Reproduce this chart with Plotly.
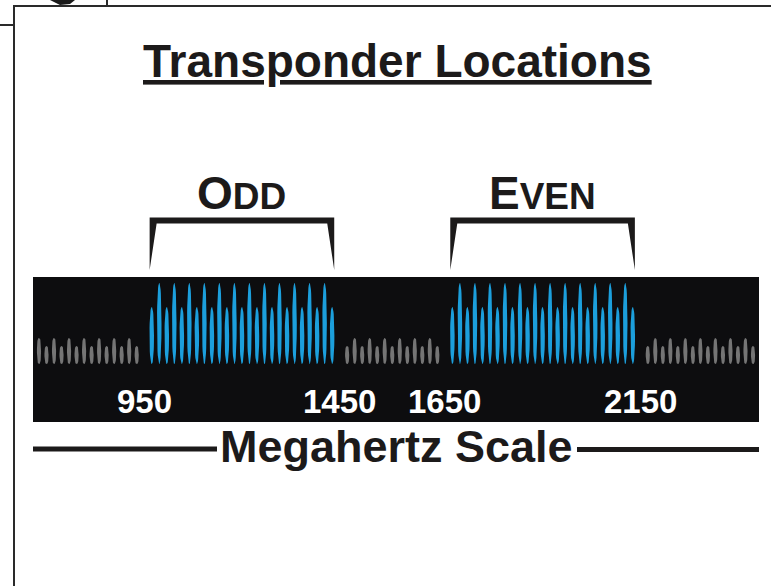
import numpy as np
import plotly.graph_objects as go

W, H = 772, 586

# ---------------- data ----------------
# channel slots along the illustrated L-band strip (uniform spacing)
group_names = ["gray_left", "odd", "gray_mid", "even", "gray_right"]
group_start_slots = [0, 15, 41, 55, 81]
gray_left_heights = [26, 18, 26, 18, 26, 18, 26, 18, 26, 18, 26, 18, 26, 18]
odd_heights = [57, 81, 57, 81, 57, 81, 57, 81, 57, 81, 57, 81, 57,
               81, 57, 81, 57, 81, 57, 81, 57, 81, 57, 81, 57]
gray_mid_heights = [18, 26, 18, 26, 18, 26, 18, 26, 18, 26, 18, 26, 18]
even_heights = [57, 81, 57, 81, 57, 81, 57, 81, 57, 81, 57, 81, 57,
                81, 57, 81, 57, 81, 57, 81, 57, 81, 57, 81, 57]
gray_right_heights = [18, 26, 18, 26, 18, 26, 18, 26, 18, 26, 18, 26, 18, 26, 18]

scale_labels = ["950", "1450", "1650", "2150"]
scale_label_slots = [14, 40, 54, 80]

band_labels = ["O", "DD", "E", "VEN"]

# ---------------- styling constants ----------------
BLUE = "#1c9fdc"
GRAY = "#757575"
INK = "#1c1a1a"
BAND = "#0d0d0f"
FONT = "Liberation Sans, Arial, sans-serif"

X0, DX = 39.0, 7.516          # pixel of slot 0, pixels per slot
BASE_ROW = 364                # baseline row of spikes


def px(x):
    return x / W


def py(r):
    return 1 - r / H


def spikes_trace(groups, color, width, expo):
    xs, ys = [], []
    t = np.linspace(0, 2 * np.pi, 40)
    c, s_ = np.cos(t), np.sin(t)
    ex = np.sign(c) * np.abs(c) ** (2 / expo)
    ey = np.sign(s_) * np.abs(s_) ** (2 / expo)
    for start, heights in groups:
        for i, h in enumerate(heights):
            s = start + i
            xs += list(s + width / 2 * ex) + [None]
            ys += list(h / 2 + h / 2 * ey) + [None]
    return go.Scatter(x=xs, y=ys, mode="lines", fill="toself",
                      fillcolor=color, line=dict(width=0, color=color),
                      hoverinfo="skip", showlegend=False)


fig = go.Figure()

gray_groups = [(group_start_slots[0], gray_left_heights),
               (group_start_slots[2], gray_mid_heights),
               (group_start_slots[4], gray_right_heights)]
blue_groups = [(group_start_slots[1], odd_heights),
               (group_start_slots[3], even_heights)]

fig.add_trace(spikes_trace(gray_groups, GRAY, 0.55, 2.6))
fig.add_trace(spikes_trace(blue_groups, BLUE, 0.6, 2.2))

shapes = []
# frame lines
shapes.append(dict(type="line", xref="paper", yref="paper", x0=px(14), x1=px(14),
                   y0=py(6), y1=py(H + 2), line=dict(color="#2a2a2a", width=2)))
shapes.append(dict(type="line", xref="paper", yref="paper", x0=px(13), x1=px(771),
                   y0=py(6), y1=py(6), line=dict(color="#2a2a2a", width=2)))
shapes.append(dict(type="line", xref="paper", yref="paper", x0=px(0), x1=px(14),
                   y0=py(25), y1=py(25), line=dict(color="#2a2a2a", width=2)))
shapes.append(dict(type="line", xref="paper", yref="paper", x0=px(107), x1=px(107),
                   y0=py(-1), y1=py(6), line=dict(color="#2a2a2a", width=2)))
shapes.append(dict(type="path", xref="paper", yref="paper",
                   path=f"M {px(50)},{py(0)} L {px(75)},{py(0)} L {px(70)},{py(4)} "
                        f"L {px(60)},{py(5)} L {px(54)},{py(2)} Z",
                   fillcolor="#1a1a1a", line=dict(width=0)))
# black band
shapes.append(dict(type="rect", xref="paper", yref="paper", x0=px(33), x1=px(759),
                   y0=py(422), y1=py(277), fillcolor=BAND, line=dict(width=0),
                   layer="below"))
# brackets over ODD / EVEN groups
for start, heights in blue_groups:
    a = start - 0.28
    b = start + len(heights) - 1 + 0.28
    leg = 0.93
    top, th, tip = 217.5, 6, 270
    path = (f"M {a},{py(top)} L {b},{py(top)} L {b},{py(tip)} "
            f"L {b - leg},{py(top + th)} L {a + leg},{py(top + th)} "
            f"L {a},{py(tip)} Z")
    shapes.append(dict(type="path", xref="x", yref="paper", path=path,
                       fillcolor=INK, line=dict(width=0)))
# megahertz scale rules
shapes.append(dict(type="line", xref="paper", yref="paper", x0=px(33), x1=px(217),
                   y0=py(449), y1=py(449), line=dict(color=INK, width=5)))
shapes.append(dict(type="line", xref="paper", yref="paper", x0=px(577), x1=px(759),
                   y0=py(449.5), y1=py(449.5), line=dict(color=INK, width=5)))

annotations = []
annotations.append(dict(xref="paper", yref="paper", x=px(397), y=py(61.5),
                        text="<b><u>Transponder Locations</u></b>", showarrow=False,
                        xanchor="center", yanchor="middle",
                        font=dict(family=FONT, size=46, color=INK)))
annotations.append(dict(xref="paper", yref="paper", x=px(396), y=py(446),
                        text="<b>Megahertz Scale</b>", showarrow=False,
                        xanchor="center", yanchor="middle",
                        font=dict(family=FONT, size=45, color=INK)))
# small-caps group titles
for (start, heights), (big, small) in zip(blue_groups, [(band_labels[0], band_labels[1]),
                                                        (band_labels[2], band_labels[3])]):
    mid = start + (len(heights) - 1) / 2
    annotations.append(dict(xref="x", yref="paper", x=mid, y=py(193),
                            text=f"<b>{big}<span style='font-size:37px'>{small}</span></b>",
                            showarrow=False, xanchor="center", yanchor="middle",
                            font=dict(family=FONT, size=46, color=INK)))
# scale labels
for lab, s in zip(scale_labels, scale_label_slots):
    annotations.append(dict(xref="x", yref="paper", x=s, y=py(401.5),
                            text=f"<b>{lab}</b>", showarrow=False,
                            xanchor="center", yanchor="middle",
                            font=dict(family=FONT, size=33, color="white")))

fig.update_layout(
    width=W, height=H,
    margin=dict(l=0, r=0, t=0, b=0),
    paper_bgcolor="white", plot_bgcolor="rgba(0,0,0,0)",
    showlegend=False,
    xaxis=dict(visible=False, range=[-X0 / DX, (W - X0) / DX], fixedrange=True),
    yaxis=dict(visible=False, range=[-(H - BASE_ROW), BASE_ROW], fixedrange=True),
    shapes=shapes, annotations=annotations,
)

fig.write_html("out.html", config={"displayModeBar": False},
               post_script="document.body.style.margin='0px';")
